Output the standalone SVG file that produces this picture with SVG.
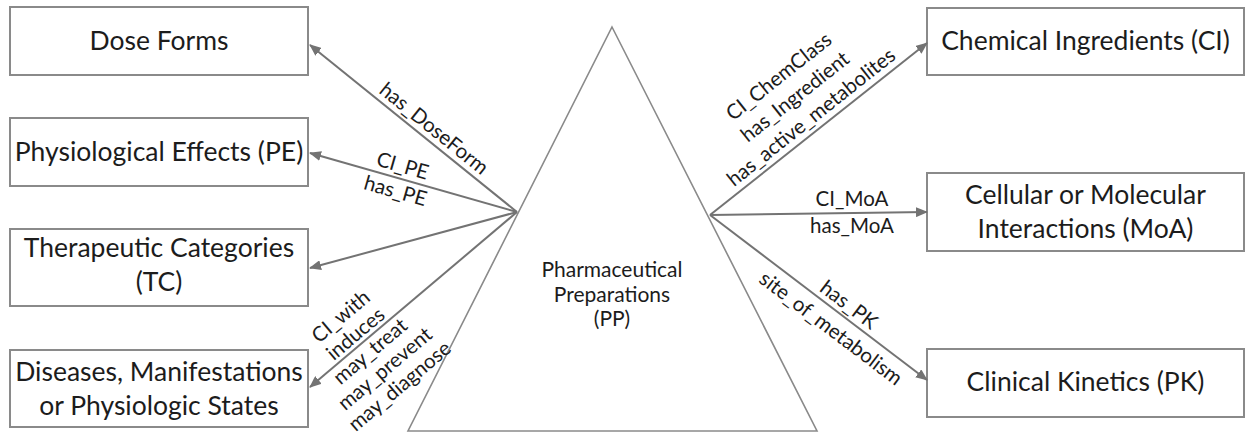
<svg xmlns="http://www.w3.org/2000/svg" width="1253" height="436" viewBox="0 0 1253 436">
<style>
.box{fill:#fff;stroke:#8a8a8a;stroke-width:2}
.tri{fill:#fff;stroke:#8a8a8a;stroke-width:1.6}
.lbl{font-family:Lato,"Liberation Sans",sans-serif;font-size:26.5px;fill:#1c1c1c;text-anchor:middle}
.ctr{font-family:Lato,"Liberation Sans",sans-serif;font-size:21px;fill:#1c1c1c;text-anchor:middle}
.edge{font-family:Lato,"Liberation Sans",sans-serif;font-size:20.5px;fill:#1c1c1c;text-anchor:middle}
.conn{stroke:#737373;stroke-width:2;fill:none;marker-end:url(#ah)}
</style>
<defs>
<marker id="ah" viewBox="0 0 12 10" refX="11" refY="5" markerWidth="12" markerHeight="10" markerUnits="userSpaceOnUse" orient="auto">
<path d="M0,0 L12,5 L0,10 z" fill="#737373"/>
</marker>
</defs>
<rect width="1253" height="436" fill="#fff"/>

<g id="pp">
<polygon class="tri" points="612,27 817,431 408,431"/>
<text class="ctr" x="612" y="277">Pharmaceutical</text>
<text class="ctr" x="612" y="302">Preparations</text>
<text class="ctr" x="612" y="326">(PP)</text>
</g>

<g id="dose-forms">
<rect class="box" x="10" y="7" width="298" height="68"/>
<text class="lbl" x="159" y="50">Dose Forms</text>
</g>
<g id="pe">
<rect class="box" x="10" y="118" width="298" height="68"/>
<text class="lbl" x="159" y="161">Physiological Effects (PE)</text>
</g>
<g id="tc">
<rect class="box" x="10" y="229" width="298" height="77"/>
<text class="lbl" x="159" y="257">Therapeutic Categories</text>
<text class="lbl" x="159" y="291">(TC)</text>
</g>
<g id="diseases">
<rect class="box" x="10" y="350" width="298" height="77"/>
<text class="lbl" x="159" y="381">Diseases, Manifestations</text>
<text class="lbl" x="159" y="415">or Physiologic States</text>
</g>
<g id="ci">
<rect class="box" x="927" y="8" width="317" height="67"/>
<text class="lbl" x="1085.5" y="50">Chemical Ingredients (CI)</text>
</g>
<g id="moa">
<rect class="box" x="927" y="173" width="317" height="78"/>
<text class="lbl" x="1085.5" y="204">Cellular or Molecular</text>
<text class="lbl" x="1085.5" y="238">Interactions (MoA)</text>
</g>
<g id="pk">
<rect class="box" x="927" y="349" width="317" height="68"/>
<text class="lbl" x="1085.5" y="391">Clinical Kinetics (PK)</text>
</g>

<g id="connectors">
<line class="conn" x1="517" y1="212" x2="310" y2="45"/>
<line class="conn" x1="517" y1="212" x2="310" y2="153"/>
<line class="conn" x1="517" y1="212" x2="310" y2="268"/>
<line class="conn" x1="517" y1="212" x2="310" y2="387"/>
<line class="conn" x1="710" y1="215" x2="927" y2="43"/>
<line class="conn" x1="710" y1="215" x2="927" y2="212"/>
<line class="conn" x1="710" y1="215" x2="927" y2="380"/>

<g transform="translate(425.9,138.6) rotate(38.9)">
<text class="edge" x="0" y="-6">has_DoseForm</text>
</g>
<g transform="translate(399,178.3) rotate(15.9)">
<text class="edge" x="0" y="-6">CI_PE</text>
<text class="edge" x="0" y="20">has_PE</text>
</g>
<g transform="translate(362.7,342.4) rotate(-40.2)">
<text class="edge" x="0" y="-27">CI_with</text>
<text class="edge" x="0" y="-4.2">induces</text>
<text class="edge" x="0" y="18.6">may_treat</text>
<text class="edge" x="0" y="41.4">may_prevent</text>
<text class="edge" x="0" y="64.2">may_diagnose</text>
</g>
<g transform="translate(819.8,128.1) rotate(-38.4)">
<text class="edge" x="0" y="-59">CI_ChemClass</text>
<text class="edge" x="0" y="-33">has_Ingredient</text>
<text class="edge" x="0" y="-7">has_active_metabolites</text>
</g>
<text class="edge" x="852" y="206">CI_MoA</text>
<text class="edge" x="852" y="233">has_MoA</text>
<g transform="translate(841.3,314.8) rotate(37.2)">
<text class="edge" x="0" y="-5.6">has_PK</text>
<text class="edge" x="0" y="24">site_of_metabolism</text>
</g>
</g>
</svg>
